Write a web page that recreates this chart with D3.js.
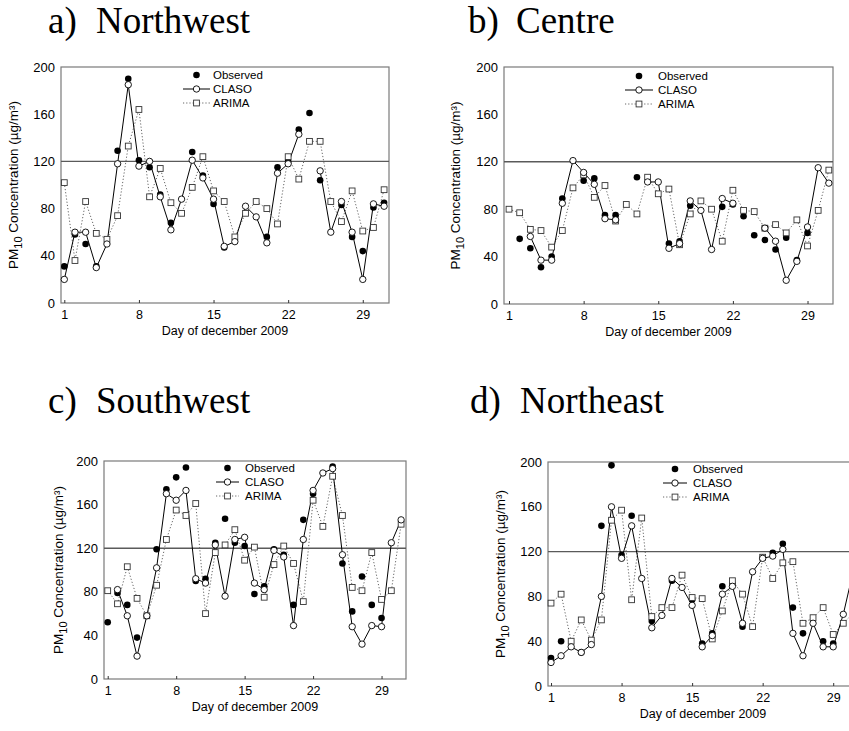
<!DOCTYPE html>
<html>
<head>
<meta charset="utf-8">
<script src="https://cdn.jsdelivr.net/npm/d3@7"></script>
<style>
  body { margin: 0; background: #fff; overflow: hidden; }
  svg { display: block; }
  text { font-family: "Liberation Sans", Arial, sans-serif; fill: #000; }
  .title { font-family: "Liberation Serif", "Times New Roman", serif; }
</style>
</head>
<body>
<svg id="chart" width="849" height="731"></svg>
<script>
const days = d3.range(1, 32);
const dayTicks = [1, 8, 15, 22, 29];
const concTicks = [0, 40, 80, 120, 160, 200];
const limitValue = 120;
const seriesNames = ['Observed', 'CLASO', 'ARIMA'];
const xLabel = 'Day of december 2009';

// a) Northwest
const nwObserved = [31, 58, 50, 31, null, 129, 190, 121, 115, 92, 68, null, 128, 108, 84, 47, null, null, null, 56, 115, 120, 147, 161, 104, null, 83, 56, 44, 81, 85];
const nwClaso = [20, 60, 60, 30, 50, 118, 185, 116, 120, 90, 62, 88, 121, 106, 88, 48, 52, 82, 73, 51, 110, 118, 143, null, 112, 60, 86, 60, 20, 84, 82];
const nwArima = [102, 36, 86, 59, 54, 74, 133, 164, 90, 114, 85, 76, 98, 124, 95, 86, 56, 76, 86, 80, 67, 124, 105, 137, 137, 86, 69, 95, 61, 64, 96];

// b) Centre
const ceObserved = [null, 55, 47, 31, 40, 89, null, 104, 106, 75, 75, null, 107, null, null, 51, 53, 83, null, null, 82, 84, 74, 58, 54, 46, 56, 37, 60, null, null];
const ceClaso = [null, null, 57, 37, 37, 85, 121, 111, 101, 72, 71, null, null, 103, 103, 47, 51, 87, 79, 46, 89, 85, null, null, 64, 53, 20, 36, 65, 115, 102];
const ceArima = [80, 77, 63, 62, 48, 62, 98, 109, 90, 100, 70, 84, 76, 107, 93, 97, 50, 76, 87, 80, 53, 96, 79, 78, 64, 67, 60, 71, 49, 79, 113];

// c) Southwest
const swObserved = [52, 79, 68, 38, null, 119, 174, 185, 194, 90, 92, 125, 147, 125, 122, 78, 85, 119, 114, 68, 146, 170, null, 195, 106, 62, 94, 68, 56, null, null];
const swClaso = [null, 82, 58, 21, 58, 102, 170, 164, 173, 92, 88, 123, 76, 128, 130, 88, 82, 118, 112, 49, 128, 173, 189, 193, 114, 48, 32, 49, 48, 125, 146];
const swArima = [81, 69, 103, 74, 58, 86, 128, 155, 150, 161, 60, 116, 123, 137, 109, 121, 75, 105, 122, 106, 71, 164, 140, 186, 150, 84, 81, 116, 73, 81, 142];

// d) Northeast
const neObserved = [25, 40, null, 30, null, 143, 197, 117, 152, null, 58, null, 94, null, 77, 38, 47, 89, 91, 53, null, null, 119, 127, 70, 47, null, 40, 38, null, null];
const neClaso = [21, 27, 35, 30, 37, 80, 160, 114, 143, 96, 52, 63, 96, 88, 72, 35, 45, 82, 89, 56, 102, 114, 116, 122, 47, 27, 56, 35, 35, 64, 103];
const neArima = [74, 82, 40, 59, 41, 59, 148, 157, 77, 150, 62, 70, 70, 99, 79, 78, 42, 67, 94, 82, 53, 115, 96, 110, 111, 56, 61, 70, 46, 56, 65];

const panels = [
  { letter: 'a)', name: 'Northwest', obs: nwObserved, claso: nwClaso, arima: nwArima,
    box: { left: 61, right: 389, top: 67, bottom: 303 }, dom: [0.69, 31.46],
    title: { x: 48, nx: 96, y: 33 }, yLabelX: 18, legend: { x: 183, w: 27, tx: 213, y: 75 } },
  { letter: 'b)', name: 'Centre', obs: ceObserved, claso: ceClaso, arima: ceArima,
    box: { left: 504, right: 833, top: 67, bottom: 304 }, dom: [0.53, 31.39],
    title: { x: 468, nx: 516, y: 33 }, yLabelX: 460, legend: { x: 625, w: 28, tx: 658, y: 76 } },
  { letter: 'c)', name: 'Southwest', obs: swObserved, claso: swClaso, arima: swArima,
    box: { left: 104, right: 406, top: 461, bottom: 679 }, dom: [0.62, 31.5],
    title: { x: 48, nx: 96, y: 413 }, yLabelX: 63, legend: { x: 216, w: 23, tx: 245, y: 468 } },
  { letter: 'd)', name: 'Northeast', obs: neObserved, claso: neClaso, arima: neArima,
    box: { left: 548, right: 858, top: 462, bottom: 686 }, dom: [0.70, 31.46],
    title: { x: 470, nx: 520, y: 413 }, yLabelX: 505, legend: { x: 663, w: 24, tx: 693, y: 469 } }
];

const svg = d3.select('#chart');
svg.append('rect').attr('width', 849).attr('height', 731).attr('fill', '#fff');

function drawPanel(p) {
  const b = p.box;
  const x = d3.scaleLinear().domain(p.dom).range([b.left, b.right]);
  const y = d3.scaleLinear().domain([0, 200]).range([b.bottom, b.top]);
  const g = svg.append('g');

  // title
  g.append('text').attr('class', 'title').attr('x', p.title.x).attr('y', p.title.y)
    .style('font-size', '37px').text(p.letter);
  g.append('text').attr('class', 'title').attr('x', p.title.nx).attr('y', p.title.y)
    .style('font-size', '37px').text(p.name);

  // frame
  g.append('rect')
    .attr('x', b.left).attr('y', b.top)
    .attr('width', b.right - b.left).attr('height', b.bottom - b.top)
    .attr('fill', 'none').attr('stroke', '#7a7a7a').attr('stroke-width', 1.2);

  // limit line
  g.append('line')
    .attr('x1', b.left).attr('x2', b.right)
    .attr('y1', y(limitValue)).attr('y2', y(limitValue))
    .attr('stroke', '#5a5a5a').attr('stroke-width', 1.4);

  // axes
  const xAxis = g.append('g').attr('transform', `translate(0,${b.bottom})`)
    .call(d3.axisBottom(x).tickValues(dayTicks).tickSize(-3).tickPadding(7));
  xAxis.select('.domain').remove();
  xAxis.selectAll('line').attr('stroke', '#333');
  xAxis.selectAll('text').style('font-size', '12.5px').style('font-family', '"Liberation Sans", Arial, sans-serif');

  const yAxis = g.append('g').attr('transform', `translate(${b.left},0)`)
    .call(d3.axisLeft(y).tickValues(concTicks).tickSize(0).tickPadding(6));
  yAxis.select('.domain').remove();
  yAxis.selectAll('text').style('font-size', '13px').style('font-family', '"Liberation Sans", Arial, sans-serif');

  g.append('text')
    .attr('x', (b.left + b.right) / 2).attr('y', b.bottom + 32)
    .attr('text-anchor', 'middle').style('font-size', '12.5px').text(xLabel);

  const yl = g.append('text')
    .attr('transform', `translate(${p.yLabelX},${(b.top + b.bottom) / 2}) rotate(-90)`)
    .attr('text-anchor', 'middle').style('font-size', '13.5px');
  yl.append('tspan').text('PM');
  yl.append('tspan').attr('dy', 4).style('font-size', '11px').text('10');
  yl.append('tspan').attr('dy', -4).text(' Concentration  (µg/m³)');

  // series
  const pts = arr => days.map((d, i) => ({ d, v: arr[i] }));
  const line = d3.line().defined(o => o.v != null).x(o => x(o.d)).y(o => y(o.v));

  g.append('path').datum(pts(p.arima)).attr('d', line)
    .attr('fill', 'none').attr('stroke', '#666').attr('stroke-width', 1).attr('stroke-dasharray', '1.2,2');
  g.append('path').datum(pts(p.claso)).attr('d', line)
    .attr('fill', 'none').attr('stroke', '#000').attr('stroke-width', 1);

  g.selectAll('.obs').data(pts(p.obs).filter(o => o.v != null)).join('circle')
    .attr('cx', o => x(o.d)).attr('cy', o => y(o.v)).attr('r', 3.3).attr('fill', '#000');
  g.selectAll('.sq').data(pts(p.arima).filter(o => o.v != null)).join('rect')
    .attr('x', o => x(o.d) - 2.9).attr('y', o => y(o.v) - 2.9)
    .attr('width', 5.8).attr('height', 5.8)
    .attr('fill', '#fff').attr('stroke', '#333').attr('stroke-width', 0.9);
  g.selectAll('.cl').data(pts(p.claso).filter(o => o.v != null)).join('circle')
    .attr('cx', o => x(o.d)).attr('cy', o => y(o.v)).attr('r', 3.2)
    .attr('fill', '#fff').attr('stroke', '#000').attr('stroke-width', 0.9);

  // legend
  const L = p.legend, cx = L.x + L.w / 2;
  const lg = g.append('g');
  lg.append('circle').attr('cx', cx).attr('cy', L.y).attr('r', 3.3).attr('fill', '#000');
  lg.append('line').attr('x1', L.x).attr('x2', L.x + L.w).attr('y1', L.y + 14).attr('y2', L.y + 14)
    .attr('stroke', '#000');
  lg.append('circle').attr('cx', cx).attr('cy', L.y + 14).attr('r', 3.2)
    .attr('fill', '#fff').attr('stroke', '#000').attr('stroke-width', 0.9);
  lg.append('line').attr('x1', L.x).attr('x2', L.x + L.w).attr('y1', L.y + 28).attr('y2', L.y + 28)
    .attr('stroke', '#666').attr('stroke-dasharray', '1.2,2');
  lg.append('rect').attr('x', cx - 2.9).attr('y', L.y + 28 - 2.9).attr('width', 5.8).attr('height', 5.8)
    .attr('fill', '#fff').attr('stroke', '#333').attr('stroke-width', 0.9);
  seriesNames.forEach((s, i) => {
    lg.append('text').attr('x', L.tx).attr('y', L.y + i * 14).attr('dy', '0.36em')
      .style('font-size', '11.5px').text(s);
  });
}

panels.forEach(drawPanel);
</script>
</body>
</html>
